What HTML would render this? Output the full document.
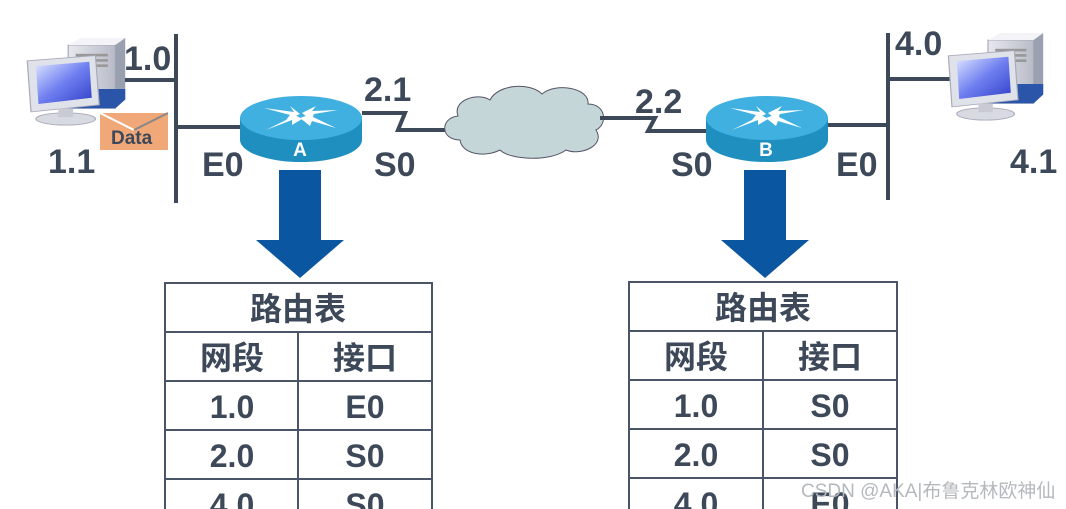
<!DOCTYPE html>
<html><head><meta charset="utf-8"><style>
html,body{margin:0;padding:0;background:#fff;}
svg{display:block;}
.t{font-family:"Liberation Sans","Noto Sans CJK SC",sans-serif;font-weight:bold;fill:#3d4859;}
</style></head><body>
<svg width="1066" height="509" viewBox="0 0 1066 509" xmlns="http://www.w3.org/2000/svg">
<defs>
<linearGradient id="scr" x1="0" y1="0" x2="1" y2="1"><stop offset="0" stop-color="#dfe6ff"/><stop offset="0.5" stop-color="#6f7ff0"/><stop offset="1" stop-color="#3040c8"/></linearGradient>
<linearGradient id="twr" x1="0" y1="0" x2="1" y2="0"><stop offset="0" stop-color="#e8e8ee"/><stop offset="1" stop-color="#b8bcc8"/></linearGradient>
<g id="pc">
 <path d="M30 0 L68 0 L68 72 L30 72 Z" fill="url(#twr)" stroke="#aab" />
 <path d="M30 0 L40 -8 L76 -8 L68 0 Z" fill="#f4f4f8"/>
 <path d="M68 0 L76 -8 L76 62 L68 72 Z" fill="#9aa0b0"/>
 <rect x="36" y="10" width="26" height="3" fill="#999"/><rect x="36" y="16" width="26" height="3" fill="#999"/><rect x="36" y="22" width="26" height="3" fill="#999"/>
 <path d="M30 50 L76 50 L76 62 L68 72 L30 72 Z" fill="#2a55a8"/>
 <path d="M-3 18 L52 12 L55 68 L0 76 Z" fill="#e0e2ea" stroke="#aab"/>
 <path d="M4 24 L47 19 L49 60 L6 67 Z" fill="url(#scr)"/>
 <ellipse cx="28" cy="84" rx="24" ry="7" fill="#d8dae2" stroke="#aab"/>
 <rect x="22" y="72" width="12" height="10" fill="#c8cad4"/>
</g>
<g id="router">
 <path d="M0 30 L0 52 A61 22 0 0 0 122 52 L122 30 Z" fill="#1f8fc0"/>
 <ellipse cx="61" cy="30" rx="61" ry="22" fill="#3fb0e0"/>
 <g fill="#fff">
  <path d="M24 20 L54 24 L50 18 L60 26 L46 32 L50 27 Z"/>
  <path d="M98 22 L68 27 L72 33 L62 25 L76 18 L72 23 Z"/>
  <path d="M26 42 L52 32 L52 37 L62 31 L52 25 L52 29 Z"/>
  <path d="M96 40 L72 33 L70 38 L60 30 L74 25 L73 29 Z"/>
 </g>
</g>
<g id="arrow"><path d="M23 0 L65 0 L65 70 L88 70 L44 108 L0 70 L23 70 Z" fill="#0b56a0"/></g>
</defs>

<g transform="translate(31,45) scale(1.24,0.88)"><use href="#pc"/></g>
<line x1="176" y1="34" x2="176" y2="203" stroke="#3d4859" stroke-width="4"/>
<line x1="125" y1="80" x2="176" y2="80" stroke="#3d4859" stroke-width="4"/>
<line x1="176" y1="127" x2="242" y2="127" stroke="#3d4859" stroke-width="4"/>
<rect x="100" y="113" width="68" height="37" fill="#f0a878"/>
<line x1="100" y1="113" x2="134" y2="130" stroke="#fff" stroke-width="2"/>
<line x1="134" y1="130" x2="168" y2="113" stroke="#888" stroke-width="2"/>
<text x="111" y="144" class="t" font-size="19">Data</text>

<use href="#router" x="240" y="88"/>
<text x="300" y="156" class="t" font-size="19" style="fill:#fff" text-anchor="middle">A</text>

<polyline points="362,113 405,113 398,130 445,130" fill="none" stroke="#3d4859" stroke-width="4"/>
<path d="M460 140 C440 140 440 118 458 116 C452 100 478 92 490 100 C498 84 530 82 542 94 C556 82 590 88 588 104 C606 104 608 124 596 130 C606 146 580 156 566 150 C550 162 510 160 500 150 C484 158 462 154 460 140 Z" fill="#c5d6d9" stroke="#556" stroke-width="1"/>
<polyline points="600,118 655,118 648,131 708,131" fill="none" stroke="#3d4859" stroke-width="4"/>

<use href="#router" x="706" y="88"/>
<text x="766" y="156" class="t" font-size="19" style="fill:#fff" text-anchor="middle">B</text>

<line x1="828" y1="125" x2="888" y2="125" stroke="#3d4859" stroke-width="4"/>
<line x1="888" y1="33" x2="888" y2="200" stroke="#3d4859" stroke-width="4"/>
<line x1="888" y1="79" x2="950" y2="79" stroke="#3d4859" stroke-width="4"/>
<g transform="translate(952,40) scale(1.2,0.88)"><use href="#pc"/></g>

<g class="t" font-size="34">
<text x="124" y="70">1.0</text>
<text x="48" y="173">1.1</text>
<text x="202" y="176">E0</text>
<text x="374" y="176">S0</text>
<text x="364" y="101">2.1</text>
<text x="635" y="113">2.2</text>
<text x="671" y="176">S0</text>
<text x="836" y="176">E0</text>
<text x="895" y="55">4.0</text>
<text x="1010" y="173">4.1</text>
</g>

<use href="#arrow" x="256" y="170"/>
<use href="#arrow" x="721" y="170"/>

<g stroke="#4a5568" stroke-width="2" fill="none">
 <rect x="165" y="283" width="267" height="240"/>
 <line x1="165" y1="332" x2="432" y2="332"/><line x1="165" y1="381" x2="432" y2="381"/><line x1="165" y1="430" x2="432" y2="430"/><line x1="165" y1="479" x2="432" y2="479"/>
 <line x1="298" y1="332" x2="298" y2="509"/>
 <rect x="629" y="282" width="268" height="240"/>
 <line x1="629" y1="331" x2="897" y2="331"/><line x1="629" y1="380" x2="897" y2="380"/><line x1="629" y1="429" x2="897" y2="429"/><line x1="629" y1="478" x2="897" y2="478"/>
 <line x1="763" y1="331" x2="763" y2="509"/>
</g>
<g class="t" font-size="32" text-anchor="middle">
 <text x="298" y="320">路由表</text>
 <text x="232" y="369">网段</text><text x="365" y="369">接口</text>
 <text x="232" y="418">1.0</text><text x="365" y="418">E0</text>
 <text x="232" y="467">2.0</text><text x="365" y="467">S0</text>
 <text x="232" y="516">4.0</text><text x="365" y="516">S0</text>
 <text x="763" y="319">路由表</text>
 <text x="696" y="368">网段</text><text x="830" y="368">接口</text>
 <text x="696" y="417">1.0</text><text x="830" y="417">S0</text>
 <text x="696" y="466">2.0</text><text x="830" y="466">S0</text>
 <text x="696" y="515">4.0</text><text x="830" y="515">E0</text>
</g>
<text x="801" y="497" font-size="19" fill="#b4b9be" style="font-family:'Liberation Sans','Noto Sans CJK SC',sans-serif">CSDN @AKA|布鲁克林欧神仙</text>
</svg>
</body></html>
